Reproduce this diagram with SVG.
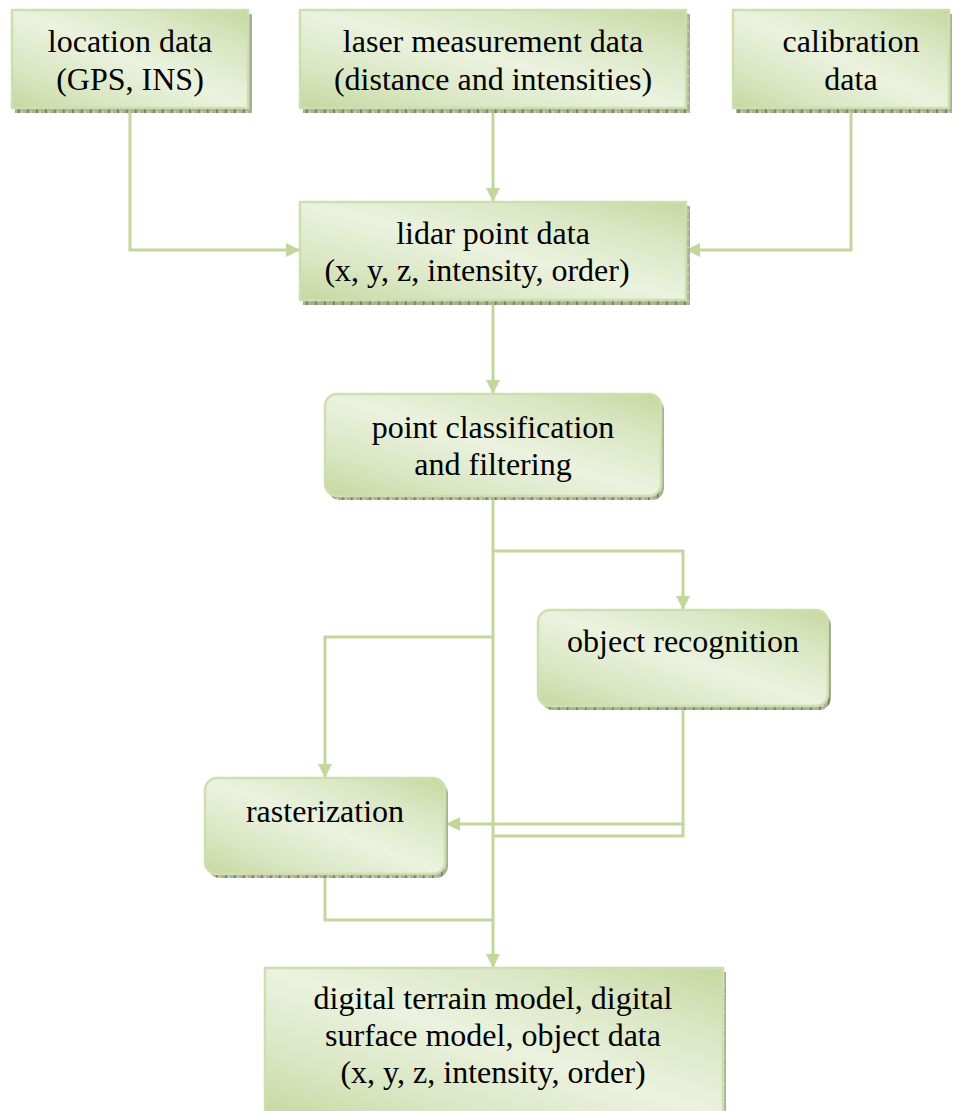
<svg xmlns="http://www.w3.org/2000/svg" width="961" height="1111" viewBox="0 0 961 1111">
<defs>
<linearGradient id="g" x1="0" y1="1" x2="1" y2="0">
<stop offset="0" stop-color="#c5d89f"/>
<stop offset="0.22" stop-color="#d9e6c2"/>
<stop offset="0.5" stop-color="#ebf2df"/>
<stop offset="0.78" stop-color="#d9e6c2"/>
<stop offset="1" stop-color="#c5d89f"/>
</linearGradient>
<pattern id="sh" width="9" height="9" patternUnits="userSpaceOnUse">
<rect width="9" height="9" fill="#a9b192"/>
<rect x="0" y="0" width="1.5" height="9" fill="#6f7a58"/>
<rect x="3" y="3" width="2" height="2" fill="#c7cbb7"/>
</pattern>
<marker id="ar" viewBox="0 0 14 14" refX="14" refY="7" markerWidth="14" markerHeight="14" markerUnits="userSpaceOnUse" orient="auto">
<path d="M0,0 L14,7 L0,14 z" fill="#c3d69b"/>
</marker>
<style>
.box{fill:url(#g);stroke:#cddfae;stroke-width:2.5}
.sh{fill:url(#sh)}
.c{fill:none;stroke:#c3d69b;stroke-width:3}
</style>
</defs>

<g id="connectors">
<path class="c" d="M130,108 V250 H300" marker-end="url(#ar)"/>
<path class="c" d="M493,108 V202" marker-end="url(#ar)"/>
<path class="c" d="M851,108 V250 H686" marker-end="url(#ar)"/>
<path class="c" d="M493,300 V394" marker-end="url(#ar)"/>
<path class="c" d="M493,496 V968" marker-end="url(#ar)"/>
<path class="c" d="M493,551 H683 V610" marker-end="url(#ar)"/>
<path class="c" d="M493,637 H325 V778" marker-end="url(#ar)"/>
<path class="c" d="M683,706 V824 H446" marker-end="url(#ar)"/>
<path class="c" d="M683,824 V836 H493"/>
<path class="c" d="M325,874 V920 H493"/>
</g>

<g id="location">
<rect class="sh" x="15" y="14" width="237" height="99"/>
<rect class="box" x="12" y="10" width="236" height="98"/>
<text font-family="Liberation Serif" font-size="32" text-anchor="middle" x="130" y="52">location data</text>
<text font-family="Liberation Serif" font-size="32" text-anchor="middle" x="130" y="90">(GPS, INS)</text>
</g>

<g id="laser">
<rect class="sh" x="303" y="14" width="387" height="99"/>
<rect class="box" x="300" y="10" width="386" height="98"/>
<text font-family="Liberation Serif" font-size="32" text-anchor="middle" x="493" y="52">laser measurement data</text>
<text font-family="Liberation Serif" font-size="32" text-anchor="middle" x="493" y="90">(distance and intensities)</text>
</g>

<g id="calibration">
<rect class="sh" x="736" y="14" width="216" height="99"/>
<rect class="box" x="733" y="10" width="216" height="98"/>
<text font-family="Liberation Serif" font-size="32" text-anchor="middle" x="851" y="52">calibration</text>
<text font-family="Liberation Serif" font-size="32" text-anchor="middle" x="851" y="90">data</text>
</g>

<g id="lidar">
<rect class="sh" x="303" y="206" width="387" height="99"/>
<rect class="box" x="300" y="202" width="386" height="98"/>
<text font-family="Liberation Serif" font-size="32" text-anchor="middle" x="493" y="244">lidar point data</text>
<text font-family="Liberation Serif" font-size="32" text-anchor="middle" x="477" y="281">(x, y, z, intensity, order)</text>
</g>

<g id="classification">
<rect class="sh" x="328" y="398" width="336" height="102" rx="12"/>
<rect class="box" x="325" y="394" width="336" height="102" rx="12"/>
<text font-family="Liberation Serif" font-size="32" text-anchor="middle" x="493" y="438">point classification</text>
<text font-family="Liberation Serif" font-size="32" text-anchor="middle" x="493" y="475">and filtering</text>
</g>

<g id="object">
<rect class="sh" x="541" y="614" width="290" height="96" rx="12"/>
<rect class="box" x="538" y="610" width="290" height="96" rx="12"/>
<text font-family="Liberation Serif" font-size="32" text-anchor="middle" x="683" y="652">object recognition</text>
</g>

<g id="rasterization">
<rect class="sh" x="208" y="782" width="240" height="96" rx="12"/>
<rect class="box" x="205" y="778" width="240" height="96" rx="12"/>
<text font-family="Liberation Serif" font-size="32" text-anchor="middle" x="325" y="822">rasterization</text>
</g>

<g id="output">
<rect class="sh" x="268" y="972" width="458" height="150"/>
<rect class="box" x="265" y="968" width="458" height="150"/>
<text font-family="Liberation Serif" font-size="32" text-anchor="middle" x="493" y="1009">digital terrain model, digital</text>
<text font-family="Liberation Serif" font-size="32" text-anchor="middle" x="493" y="1046">surface model, object data</text>
<text font-family="Liberation Serif" font-size="32" text-anchor="middle" x="493" y="1083">(x, y, z, intensity, order)</text>
</g>
</svg>
